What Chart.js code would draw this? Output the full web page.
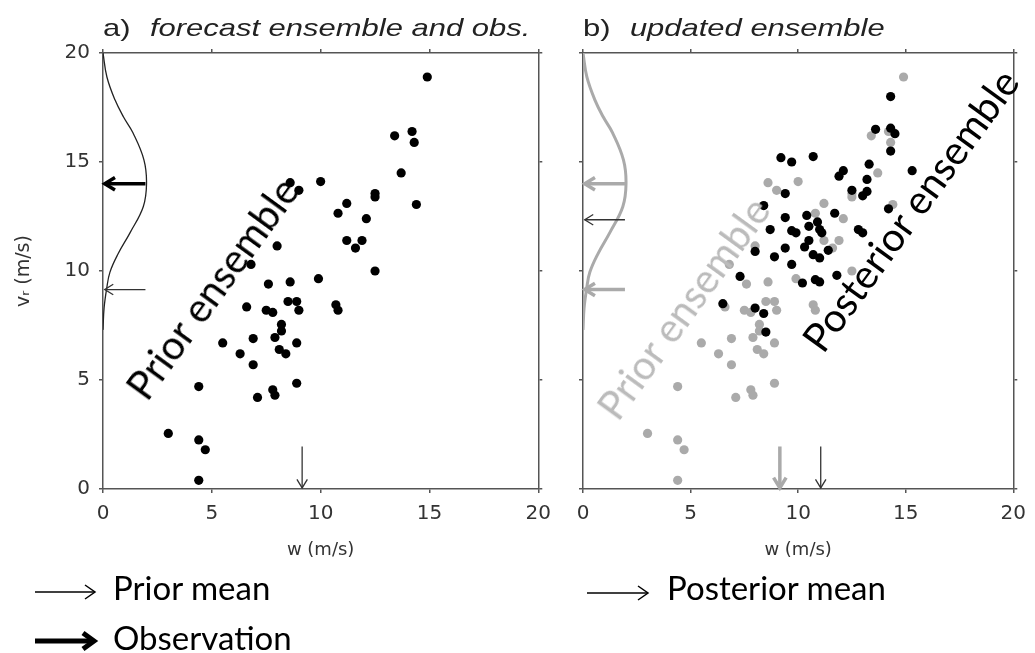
<!DOCTYPE html>
<html>
<head>
<meta charset="utf-8">
<script src="https://cdn.jsdelivr.net/npm/chart.js@4.4.1/dist/chart.umd.min.js"></script>
<style>
  body { margin: 0; width: 1035px; height: 653px; background: #fff; position: relative; overflow: hidden; }
  canvas { position: absolute; top: 0; }
  #chartA { left: 0; }
  #chartB { left: 560px; }
  .ttl { position: absolute; top: 14px; font-family: "Liberation Sans", Arial, sans-serif; font-size: 24px; line-height: 28px;
         color: #222; white-space: nowrap; transform: scaleX(1.29); transform-origin: 0 50%; }
  .ttl i { margin-left: 15px; }
  .rot { position: absolute; font-family: Lato, sans-serif; font-size: 40px; line-height: 1; white-space: nowrap;
         transform: translate(-50%, -50%) rotate(-54deg); }
  .leg { position: absolute; font-family: Lato, sans-serif; font-size: 33px; line-height: 40px; white-space: nowrap; color: #000; }
  svg { position: absolute; overflow: visible; }
</style>
</head>
<body>
<canvas id="chartA" width="560" height="575"></canvas>
<canvas id="chartB" width="475" height="575"></canvas>

<div class="ttl" style="left:103px">a)<i>forecast ensemble and obs.</i></div>
<div class="ttl" style="left:583px">b)<i>updated ensemble</i></div>

<div class="rot" style="left:212px;top:288px;color:#000">Prior ensemble</div>
<div class="rot" style="left:683px;top:308px;color:#bbb">Prior ensemble</div>
<div class="rot" style="left:910px;top:210px;color:#000">Posterior ensemble</div>

<svg width="1035" height="653" style="left:0;top:0">
  <g stroke="#000" fill="none">
    <line x1="35" y1="592" x2="94" y2="592" stroke-width="1.5"/>
    <polyline points="85,585 95,592 85,599" stroke-width="1.5"/>
    <line x1="35" y1="641" x2="90" y2="641" stroke-width="5"/>
    <polyline points="83,633 94,641 83,649" stroke-width="5"/>
    <line x1="587" y1="593" x2="647" y2="593" stroke-width="1.5"/>
    <polyline points="638,586 648,593 638,600" stroke-width="1.5"/>
  </g>
</svg>
<div class="leg" style="left:113px;top:567px">Prior mean</div>
<div class="leg" style="left:113px;top:617px">Observation</div>
<div class="leg" style="left:667px;top:567px">Posterior mean</div>

<script>
// axis ticks shared by both panels
const axisTicks = [0, 5, 10, 15, 20];

// forecast (prior) ensemble: w and v_r in m/s
const priorW = [14.9, 13.4, 14.2, 14.3, 13.7, 10.0, 8.6, 9.0, 12.5, 12.5, 14.4, 11.2, 10.8, 12.1, 8.0, 11.2, 11.9, 11.6,
                6.8, 12.5, 9.9, 8.6, 7.6, 8.5, 8.9, 6.6, 7.5, 7.8, 9.0, 10.7, 10.8, 8.2, 8.2, 5.5, 6.9, 7.9, 8.9, 6.3,
                8.1, 8.4, 6.9, 4.4, 8.9, 7.1, 7.8, 7.9, 3.0, 4.4, 4.7, 4.4];
const priorV = [18.9, 16.2, 16.4, 15.9, 14.5, 14.1, 14.05, 13.7, 13.55, 13.4, 13.05, 13.1, 12.65, 12.4, 11.15, 11.4, 11.4, 11.05,
                10.3, 10.0, 9.65, 9.5, 9.4, 8.6, 8.6, 8.35, 8.2, 8.1, 8.2, 8.45, 8.2, 7.55, 7.25, 6.7, 6.9, 6.95, 6.7, 6.2,
                6.4, 6.2, 5.7, 4.7, 4.85, 4.2, 4.55, 4.3, 2.55, 2.25, 1.8, 0.4];

// updated (posterior) ensemble
const postW = [14.3, 13.6, 14.3, 14.5, 14.3, 9.2, 9.7, 10.7, 13.3, 15.3, 12.1, 11.9, 13.2, 9.4, 12.5, 13.0, 13.2, 8.4,
               11.7, 14.2, 9.4, 10.4, 10.9, 8.7, 9.7, 9.9, 10.5, 11.0, 11.1, 12.8, 13.0, 10.5, 10.3, 9.4, 8.0, 10.7,
               11.4, 8.9, 11.0, 9.7, 7.3, 10.2, 10.8, 11.0, 11.8, 6.5, 8.0, 8.4, 8.5];
const postV = [18.0, 16.5, 16.55, 16.3, 15.5, 15.2, 15.0, 15.25, 14.9, 14.6, 14.6, 14.35, 14.2, 13.55, 13.7, 13.45, 13.65, 13.0,
               12.65, 12.85, 12.45, 12.55, 12.25, 11.9, 11.85, 11.75, 12.05, 11.9, 11.75, 11.9, 11.75, 11.4, 11.1, 11.05, 10.9, 10.75,
               10.95, 10.65, 10.6, 10.3, 9.75, 9.45, 9.6, 9.5, 9.8, 8.5, 8.3, 8.05, 7.2];

// prior pdf of v_r drawn along the left axis (w-axis units, v_r)
const pdfW = [0, 0.18, 0.55, 0.95, 1.37, 1.88, 2.0, 1.85, 1.24, 0.7, 0.32, 0.17, 0.05, 0];
const pdfV = [20, 18.9, 17.85, 17.05, 16.35, 15.1, 14.0, 12.95, 11.75, 10.8, 9.95, 9.2, 8.3, 7.3];

const obsValue = 14.0;
const priorMean = [9.15, 9.15];   // [w, v_r]
const postMean = [11.05, 12.35];  // [w, v_r]

const zip = (xs, ys) => xs.map((x, i) => ({ x: x, y: ys[i] }));
const arrowLen = 1.95;

const arrowsPlugin = {
  id: 'arrows',
  afterDatasetsDraw(chart, args, opts) {
    const ctx = chart.ctx, sx = chart.scales.x, sy = chart.scales.y;
    (opts.items || []).forEach(a => {
      const x0 = sx.getPixelForValue(a.from[0]), y0 = sy.getPixelForValue(a.from[1]);
      const x1 = sx.getPixelForValue(a.to[0]), y1 = sy.getPixelForValue(a.to[1]);
      const ang = Math.atan2(y1 - y0, x1 - x0);
      ctx.save();
      ctx.strokeStyle = a.color;
      ctx.lineWidth = a.width;
      ctx.beginPath();
      ctx.moveTo(x0, y0);
      ctx.lineTo(x1, y1);
      ctx.stroke();
      ctx.beginPath();
      ctx.moveTo(x1 - a.head * Math.cos(ang - 0.55), y1 - a.head * Math.sin(ang - 0.55));
      ctx.lineTo(x1, y1);
      ctx.lineTo(x1 - a.head * Math.cos(ang + 0.55), y1 - a.head * Math.sin(ang + 0.55));
      ctx.stroke();
      ctx.restore();
    });
  }
};

// horizontal arrow pointing at the left axis / vertical arrow pointing at the bottom axis
const hArrow = (v, color, width, head) => ({ from: [arrowLen, v], to: [0.08, v], color, width, head });
const vArrow = (w, color, width, head) => ({ from: [w, arrowLen], to: [w, 0.05], color, width, head });

function makeScales(withLabels, leftW) {
  const grid = { drawOnChartArea: false, drawTicks: true, tickLength: 4, color: '#555', lineWidth: 1.5 };
  const border = { display: true, color: '#555', width: 1.5 };
  const tickFont = { family: 'DejaVu Sans', size: 20 };
  const setTicks = s => { s.ticks = axisTicks.map(v => ({ value: v })); };
  return {
    x: {
      type: 'linear', position: 'bottom', min: 0, max: 20, afterBuildTicks: setTicks, grid, border,
      ticks: { font: tickFont, color: '#333', padding: 9, maxRotation: 0, autoSkip: false },
      title: { display: true, text: 'w (m/s)', font: { family: 'DejaVu Sans', size: 18 }, color: '#333', padding: { top: 0, bottom: 14 } },
      afterFit: s => { s.height = 575 - 489; }
    },
    x2: {
      type: 'linear', position: 'top', min: 0, max: 20, afterBuildTicks: setTicks, grid, border,
      ticks: { display: false }, afterFit: s => { s.height = 4; }
    },
    y: {
      type: 'linear', position: 'left', min: 0, max: 20, afterBuildTicks: setTicks, grid, border,
      ticks: { display: withLabels, font: tickFont, color: '#333', padding: 9 },
      title: { display: withLabels, text: 'vᵣ (m/s)', font: { family: 'DejaVu Sans', size: 19 }, color: '#333', padding: { top: 13, bottom: 0 } },
      afterFit: s => { s.width = leftW; }
    },
    y2: {
      type: 'linear', position: 'right', min: 0, max: 20, afterBuildTicks: setTicks, grid, border,
      ticks: { display: false }, afterFit: s => { s.width = 4; }
    }
  };
}

const dotStyle = { showLine: false, pointRadius: 4.6, pointHoverRadius: 4.6, borderWidth: 0 };

new Chart(document.getElementById('chartA'), {
  type: 'scatter',
  data: {
    datasets: [
      Object.assign({ label: 'prior', data: zip(priorW, priorV), backgroundColor: '#000' }, dotStyle),
      { label: 'pdf', data: zip(pdfW, pdfV), showLine: true, borderColor: '#222', borderWidth: 1.3, pointRadius: 0, tension: 0.4, fill: false }
    ]
  },
  options: {
    responsive: false, animation: false, events: [],
    layout: { padding: { top: 49, right: 16, left: 0, bottom: 0 } },
    scales: makeScales(true, 103),
    plugins: {
      legend: { display: false }, tooltip: { enabled: false },
      arrows: {
        items: [
          hArrow(obsValue, '#000', 3.5, 12),
          hArrow(priorMean[1], '#333', 1.3, 10),
          vArrow(priorMean[0], '#333', 1.3, 10)
        ]
      }
    }
  },
  plugins: [arrowsPlugin]
});

new Chart(document.getElementById('chartB'), {
  type: 'scatter',
  data: {
    datasets: [
      Object.assign({ label: 'posterior', data: zip(postW, postV), backgroundColor: '#000' }, dotStyle),
      Object.assign({ label: 'prior', data: zip(priorW, priorV), backgroundColor: '#aaa' }, dotStyle),
      { label: 'pdf', data: zip(pdfW, pdfV), showLine: true, borderColor: '#aaa', borderWidth: 3, pointRadius: 0, tension: 0.4, fill: false }
    ]
  },
  options: {
    responsive: false, animation: false, events: [],
    layout: { padding: { top: 49, right: 11, left: 0, bottom: 0 } },
    scales: makeScales(false, 23),
    plugins: {
      legend: { display: false }, tooltip: { enabled: false },
      arrows: {
        items: [
          hArrow(obsValue, '#aaa', 3.5, 12),
          hArrow(priorMean[1], '#aaa', 3.5, 12),
          vArrow(priorMean[0], '#aaa', 3.5, 12),
          hArrow(postMean[1], '#333', 1.3, 10),
          vArrow(postMean[0], '#333', 1.3, 10)
        ]
      }
    }
  },
  plugins: [arrowsPlugin]
});
</script>
</body>
</html>
